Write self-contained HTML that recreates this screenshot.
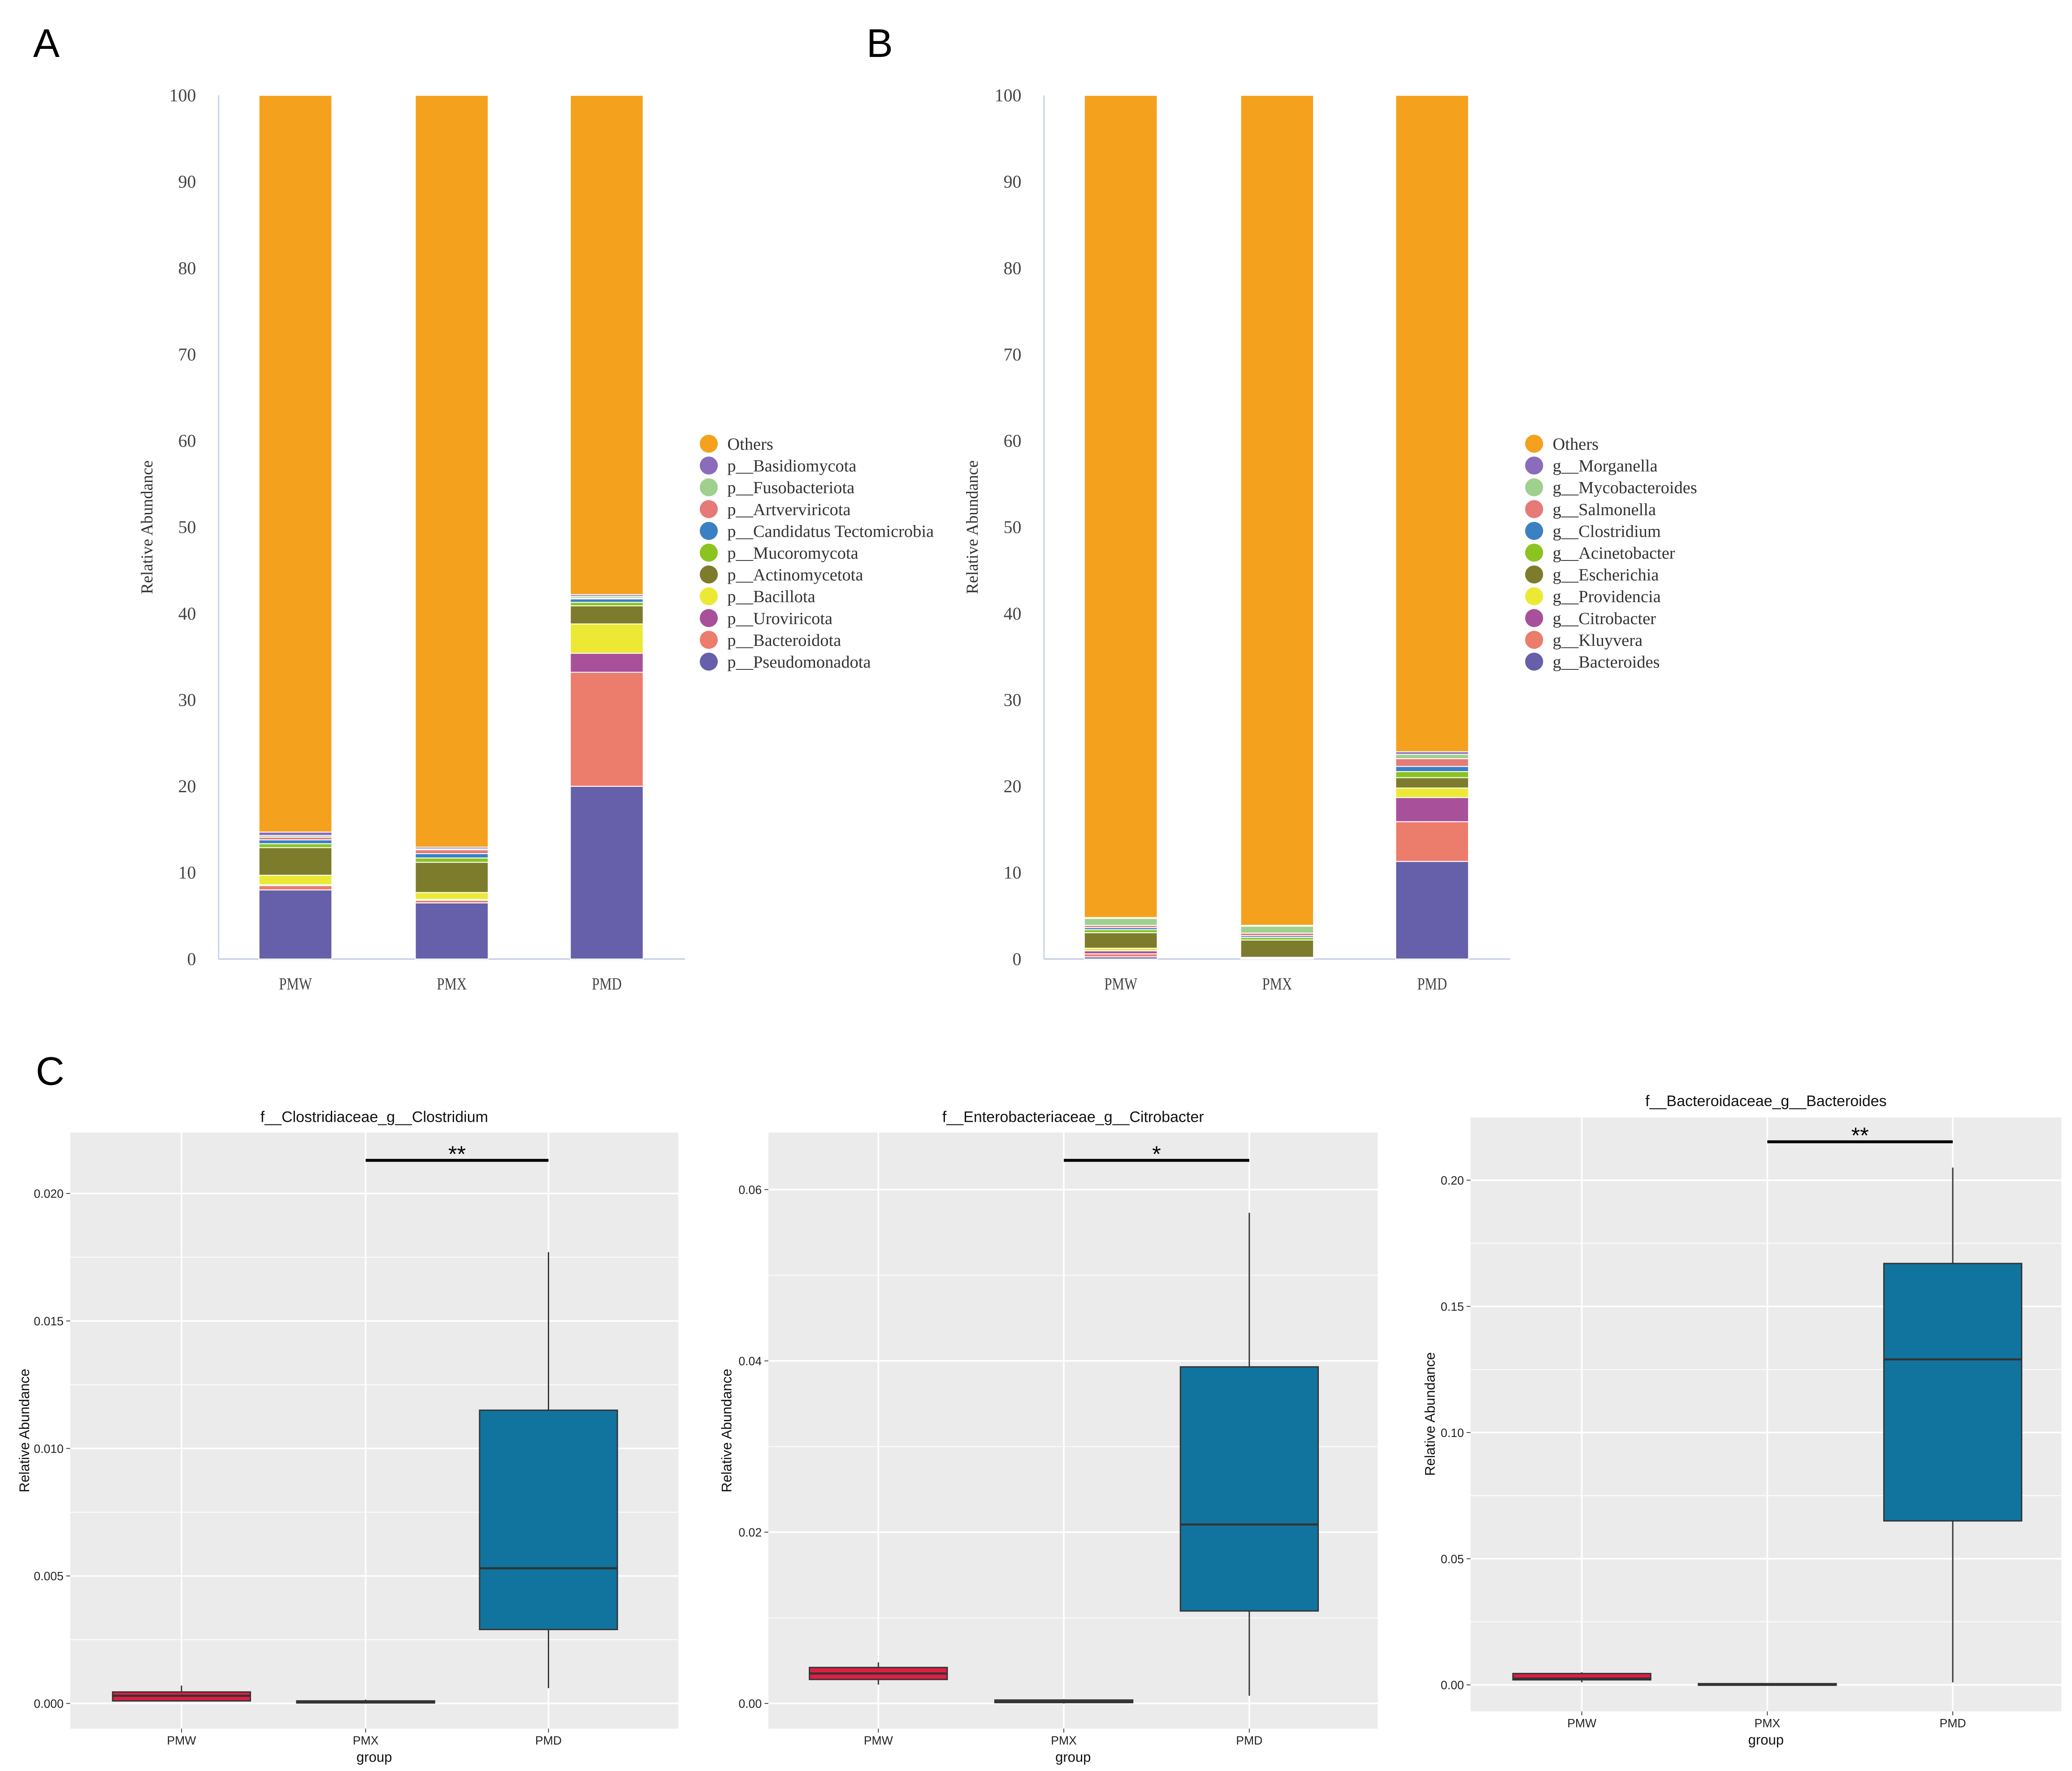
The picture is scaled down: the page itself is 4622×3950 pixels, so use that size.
<!DOCTYPE html>
<html><head><meta charset="utf-8"><style>
html,body{margin:0;padding:0;background:#fff;}
svg{display:block;}
.ser{font-family:"Liberation Serif",serif;}
.san{font-family:"Liberation Sans",sans-serif;}
</style></head><body>
<svg id="fig" xmlns="http://www.w3.org/2000/svg" width="4622" height="3950" viewBox="0 0 1564 1337" preserveAspectRatio="none">
<defs><clipPath id="legclipA"><rect x="520" y="320" width="191" height="200"/></clipPath></defs>
<text x="25" y="43" class="san" font-size="30">A</text>
<text x="654" y="43" class="san" font-size="30">B</text>
<text x="27" y="819" class="san" font-size="30">C</text>
</svg>
<script>
// ---------- Stacked bar data ----------
const groups = ["PMW","PMX","PMD"];
const yTicksStack = [0,10,20,30,40,50,60,70,80,90,100];
const phylaNames = ["p__Pseudomonadota","p__Bacteroidota","p__Uroviricota","p__Bacillota","p__Actinomycetota","p__Mucoromycota","p__Candidatus Tectomicrobia","p__Artverviricota","p__Fusobacteriota","p__Basidiomycota","Others"];
const phylaPMW = [8.0,0.5,0.1,1.1,3.2,0.45,0.45,0.3,0.2,0.4];
const phylaPMX = [6.5,0.3,0.1,0.8,3.5,0.5,0.5,0.45,0.1,0.2];
const phylaPMD = [20.0,13.2,2.2,3.4,2.1,0.4,0.4,0.1,0.2,0.2];
const genusNames = ["g__Bacteroides","g__Kluyvera","g__Citrobacter","g__Providencia","g__Escherichia","g__Acinetobacter","g__Clostridium","g__Salmonella","g__Mycobacteroides","g__Morganella","Others"];
const genusPMW = [0.25,0.35,0.35,0.3,1.8,0.35,0.25,0.25,0.8,0.1];
const genusPMX = [0.05,0.05,0.05,0.05,2.0,0.3,0.2,0.3,0.8,0.1];
const genusPMD = [11.3,4.6,2.8,1.1,1.2,0.7,0.6,0.9,0.5,0.3];
const stackColors = ["#6560a9","#ec7c6c","#a8519a","#ece935","#7d7c2c","#8bc321","#3a80c3","#e57a78","#9fd08e","#8a6cbb","#f4a11e"];

// ---------- Boxplot data [min,q1,median,q3,max] ----------
const boxGroups = ["PMW","PMX","PMD"];
const clostPMW = [0.0001,0.0001,0.0003,0.00045,0.0007];
const clostPMX = [0,0.00002,0.00005,0.0001,0.00015];
const clostPMD = [0.0006,0.0029,0.0053,0.0115,0.0177];
const clostTicks = [0.000,0.005,0.010,0.015,0.020];
const citroPMW = [0.0022,0.0028,0.0035,0.0042,0.0048];
const citroPMX = [0,0.0001,0.0002,0.0004,0.0005];
const citroPMD = [0.0009,0.0108,0.0209,0.0393,0.0573];
const citroTicks = [0.00,0.02,0.04,0.06];
const bactPMW = [0.001,0.002,0.0025,0.0045,0.005];
const bactPMX = [0,0,0.0002,0.0005,0.0005];
const bactPMD = [0.001,0.065,0.129,0.167,0.205];
const bactTicks = [0.00,0.05,0.10,0.15,0.20];
const boxFill = ["#dc1f43","#e8d84a","#11749e"];

const svg = document.getElementById('fig');
const NS = "http://www.w3.org/2000/svg";
function mk(tag, attrs, parent, text){
  const e = document.createElementNS(NS, tag);
  for (const k in attrs) e.setAttribute(k, attrs[k]);
  if (text !== undefined) e.textContent = text;
  (parent || svg).appendChild(e);
  return e;
}

function stackPanel(cfg){
  const g = mk('g', {});
  
  
  const y = v => cfg.y0 - (v/100)*(cfg.y0 - cfg.y100);
  const ya = mk('line',{x1:cfg.ax,y1:cfg.y100,x2:cfg.ax,y2:cfg.y0,stroke:"#c5d2e8","stroke-width":1},g);
  
  
  const xa = mk('line',{x1:cfg.ax,y1:cfg.y0,x2:cfg.axEnd,y2:cfg.y0,stroke:"#c5d2e8","stroke-width":1.2},g);
  
  
  yTicksStack.forEach(t=>{
    const tl = mk('text',{x:cfg.ax-17,y:y(t)+4.5,"text-anchor":"end","font-size":13.5,fill:"#444",class:"ser"},g,String(t));
    
    
  });
  const yt = mk('text',{x:0,y:0,"text-anchor":"middle","font-size":12.5,fill:"#333",class:"ser",transform:`translate(${cfg.ax-50},${(cfg.y0+cfg.y100)/2}) rotate(-90)`},g,"Relative Abundance");
  
  
  cfg.series.forEach((vals,gi)=>{
    const cx = cfg.barX[gi];
    let acc = 0;
    const segs = vals.concat([100 - vals.reduce((a,b)=>a+b,0)]);
    segs.forEach((v,si)=>{
      const r = mk('rect',{x:cx-27.5,y:y(acc+v),width:55,height:Math.max(0,y(acc)-y(acc+v)),fill:stackColors[si],stroke:"#fff","stroke-width":0.7},g);
      
      
      acc += v;
    });
    const xl = mk('text',{x:cx,y:cfg.y0+23,"text-anchor":"middle","font-size":13,fill:"#444",class:"ser",transform:`translate(${cx},0) scale(0.8,1) translate(${-cx},0)`},g,groups[gi]);
    
    
  });
  const lg = mk('g',cfg.clip?{"clip-path":"url(#"+cfg.clip+")"}:{},g);
  
  
  for (let i=0;i<cfg.names.length;i++){
    const idx = cfg.names.length-1-i;
    const ly = 335 + i*16.45;
    const c = mk('circle',{cx:cfg.legX,cy:ly,r:6.8,fill:stackColors[idx]},lg);
    
    
    const t = mk('text',{x:cfg.legX+14,y:ly+4.5,"font-size":13,fill:"#333",class:"ser"},lg,cfg.names[idx]);
    
    
  }
}

stackPanel({name:"phylum-stacked-bar-chart",ax:165,axEnd:517,y0:724,y100:72,barX:[223,341,458],series:[phylaPMW,phylaPMX,phylaPMD],names:phylaNames,legX:535,clip:"legclipA"});
stackPanel({name:"genus-stacked-bar-chart",ax:788,axEnd:1140,y0:724,y100:72,barX:[846,964,1081],series:[genusPMW,genusPMX,genusPMD],names:genusNames,legX:1158});

function boxPanel(cfg){
  const g = mk('g',{});
  
  
  const y = v => cfg.yZero - (v/cfg.tickStep)*cfg.pxStep;
  const bg = mk('rect',{x:cfg.px0,y:cfg.py0,width:cfg.px1-cfg.px0,height:cfg.py1-cfg.py0,fill:"#ebebeb"},g);
  
  
  for (let i=-1;i<cfg.ticks.length+1;i++){
    const yy = y(cfg.ticks[0]+(i+0.5)*cfg.tickStep);
    if (yy>cfg.py0 && yy<cfg.py1){
      const l = mk('line',{x1:cfg.px0,x2:cfg.px1,y1:yy,y2:yy,stroke:"#fff","stroke-width":0.6},g);
      
      
    }
  }
  cfg.ticks.forEach(t=>{
    const yy = y(t);
    const l = mk('line',{x1:cfg.px0,x2:cfg.px1,y1:yy,y2:yy,stroke:"#fff","stroke-width":1.2},g);
    
    
    mk('line',{x1:cfg.px0-3,x2:cfg.px0,y1:yy,y2:yy,stroke:"#333","stroke-width":0.6},g);
    const tl = mk('text',{x:cfg.px0-5,y:yy+3.3,"text-anchor":"end","font-size":9,fill:"#222",class:"san"},g,t.toFixed(cfg.dec));
    
    
  });
  cfg.cx.forEach((cx,i)=>{
    const l = mk('line',{x1:cx,x2:cx,y1:cfg.py0,y2:cfg.py1,stroke:"#fff","stroke-width":1.2},g);
    
    
    mk('line',{x1:cx,x2:cx,y1:cfg.py1,y2:cfg.py1+3,stroke:"#333","stroke-width":0.6},g);
    const xl = mk('text',{x:cx,y:cfg.py1+12,"text-anchor":"middle","font-size":9,fill:"#222",class:"san"},g,boxGroups[i]);
    
    
  });
  cfg.data.forEach((d,i)=>{
    const cx = cfg.cx[i], w = 104;
    const wl = mk('line',{x1:cx,x2:cx,y1:y(d[4]),y2:y(d[0]),stroke:"#333","stroke-width":1},g);
    
    
    const h = Math.max(1.2, y(d[1])-y(d[3]));
    const b = mk('rect',{x:cx-w/2,y:y(d[3]),width:w,height:h,fill:boxFill[i],stroke:"#333","stroke-width":1},g);
    
    
    const m = mk('line',{x1:cx-w/2,x2:cx+w/2,y1:y(d[2]),y2:y(d[2]),stroke:"#333","stroke-width":1.6},g);
    
    
  });
  const sb = mk('line',{x1:cfg.cx[1],x2:cfg.cx[2],y1:cfg.sigY,y2:cfg.sigY,stroke:"#000","stroke-width":2.2},g);
  
  
  const st = mk('text',{x:(cfg.cx[1]+cfg.cx[2])/2,y:cfg.sigY+1,"text-anchor":"middle","font-size":17,fill:"#000",class:"san"},g,cfg.sig);
  
  
  const tt = mk('text',{x:(cfg.px0+cfg.px1)/2,y:cfg.py0-8,"text-anchor":"middle","font-size":11.5,fill:"#111",class:"san"},g,cfg.title);
  
  
  const xt = mk('text',{x:(cfg.px0+cfg.px1)/2,y:cfg.py1+25,"text-anchor":"middle","font-size":10.5,fill:"#111",class:"san"},g,"group");
  
  
  const yt = mk('text',{x:0,y:0,"text-anchor":"middle","font-size":10.5,fill:"#111",class:"san",transform:`translate(${cfg.ylx},${(cfg.py0+cfg.py1)/2}) rotate(-90)`},g,"Relative Abundance");
  
  
}

boxPanel({name:"clostridium-boxplot",px0:53,px1:512,py0:855,py1:1305,yZero:1286,tickStep:0.005,pxStep:96.25,ticks:clostTicks,dec:3,cx:[137,276,414],data:[clostPMW,clostPMX,clostPMD],sigY:876,sig:"**",title:"f__Clostridiaceae_g__Clostridium",ylx:22});
boxPanel({name:"citrobacter-boxplot",px0:580,px1:1040,py0:855,py1:1305,yZero:1286,tickStep:0.02,pxStep:129.3,ticks:citroTicks,dec:2,cx:[663,803,943],data:[citroPMW,citroPMX,citroPMD],sigY:876,sig:"*",title:"f__Enterobacteriaceae_g__Citrobacter",ylx:552});
boxPanel({name:"bacteroides-boxplot",px0:1110,px1:1556,py0:843,py1:1292,yZero:1272,tickStep:0.05,pxStep:95.25,ticks:bactTicks,dec:2,cx:[1194,1334,1474],data:[bactPMW,bactPMX,bactPMD],sigY:862,sig:"**",title:"f__Bacteroidaceae_g__Bacteroides",ylx:1083});
</script>
</body></html>
